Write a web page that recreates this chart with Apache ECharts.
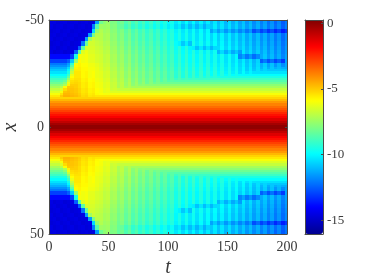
<!DOCTYPE html>
<html><head><meta charset="utf-8">
<style>html,body{margin:0;padding:0;background:#fff}#c{width:374px;height:280px;filter:blur(0.35px)}</style>
<script src="https://cdn.jsdelivr.net/npm/echarts@6/dist/echarts.min.js"></script>
</head><body><div id="c"></div>
<script>
const tEdges=[0,3,6,9,12,15,18,21,24,27,30,33,36,39,42,45,48,51,54,57,60,63,66,69,72,75,78,81,84,87,90,93,96,99,102,105,108,111,114,117,120,123,126,129,132,135,138,141,144,147,150,153,156,159,162,165,168,171,174,177,180,183,186,189,192,195,198,200];
const wingEdges=[-50,-48,-46,-44,-42,-40,-38,-36,-34,-32,-30,-29,-28,-27,-26,-25,-24,-23,-22,-21,-20,-19,-18,-17,-16,-15,-14];
const r49=[-14.6,-14.5,-14.7,-14.6,-14.5,-14.7,-14.6,-14.5,-14.7,-14.6,-14.5,-14.7,-14.6,-11.5,-8.2,-7.7,-7.5,-8.0,-7.9,-8.4,-8.1,-8.7,-8.3,-9.0,-8.6,-9.2,-8.8,-9.4,-9.0,-9.6,-9.2,-9.8,-9.4,-10.0,-9.6,-10.3,-9.8,-10.5,-9.9,-10.6,-10.0,-10.7,-10.1,-10.8,-10.2,-10.9,-10.3,-11.0,-10.4,-11.1,-10.5,-11.2,-10.7,-11.4,-10.9,-11.6,-11.1,-11.8,-11.3,-12.0,-11.5,-12.2,-11.7,-12.4,-11.9,-12.6,-12.1];
const r47=[-14.5,-14.7,-14.6,-14.5,-14.7,-14.6,-14.5,-14.7,-14.6,-14.5,-14.7,-14.6,-12.0,-8.6,-7.4,-7.5,-7.4,-7.9,-7.8,-8.3,-8.3,-8.9,-8.5,-9.2,-8.8,-9.4,-9.0,-9.6,-9.2,-9.8,-9.4,-10.0,-9.6,-10.2,-9.8,-10.5,-10.2,-10.9,-10.3,-11.0,-10.4,-11.1,-10.5,-11.2,-10.6,-10.8,-10.2,-10.9,-10.3,-11.0,-10.4,-11.1,-10.6,-11.3,-10.8,-11.5,-11.0,-11.7,-11.2,-11.9,-11.4,-12.1,-11.6,-12.3,-11.8,-12.5,-12.0];
const r45=[-14.7,-14.6,-14.5,-14.7,-14.6,-14.5,-14.7,-14.6,-14.5,-14.7,-14.6,-14.5,-10.5,-7.6,-7.1,-7.4,-7.3,-7.8,-7.7,-8.2,-7.9,-8.5,-8.1,-8.8,-8.4,-9.0,-8.6,-9.2,-8.8,-9.4,-9.0,-9.6,-9.2,-9.8,-9.4,-10.1,-9.6,-10.3,-9.7,-10.4,-9.8,-10.5,-9.9,-10.6,-10.0,-11.4,-10.8,-11.5,-10.9,-11.6,-11.0,-11.7,-11.2,-11.9,-11.4,-12.1,-11.6,-12.8,-12.3,-13.0,-12.5,-13.2,-12.7,-13.4,-12.9,-13.6,-13.1];
const r43=[-14.6,-14.5,-14.7,-14.6,-14.5,-14.7,-14.6,-14.5,-14.7,-14.6,-14.5,-11.5,-8.0,-7.0,-7.0,-7.3,-7.2,-7.7,-7.6,-8.1,-7.8,-8.4,-8.0,-8.7,-8.3,-8.9,-8.5,-9.1,-8.7,-9.3,-8.9,-9.5,-9.1,-9.7,-9.3,-10.0,-9.5,-10.2,-9.6,-10.3,-9.7,-10.4,-9.8,-10.5,-9.9,-10.6,-10.0,-10.7,-10.1,-10.8,-10.2,-10.9,-10.4,-11.1,-10.6,-11.3,-10.8,-11.5,-11.0,-11.7,-11.2,-11.9,-11.4,-12.1,-11.6,-12.3,-11.8];
const r41=[-14.5,-14.7,-14.6,-14.5,-14.7,-14.6,-14.5,-14.7,-14.6,-14.5,-11.5,-7.4,-6.7,-6.9,-7.0,-7.3,-7.2,-7.7,-7.6,-8.1,-7.8,-8.4,-8.0,-8.7,-8.3,-8.9,-8.5,-9.1,-8.7,-9.3,-8.9,-9.5,-9.1,-9.7,-9.3,-10.0,-9.5,-10.2,-9.6,-10.3,-9.7,-10.4,-9.8,-10.5,-9.9,-10.6,-10.0,-10.7,-10.1,-10.8,-10.2,-10.9,-10.4,-11.1,-10.6,-11.3,-10.8,-11.5,-11.0,-11.7,-11.2,-11.9,-11.4,-12.1,-11.6,-12.3,-11.8];
const r39=[-14.7,-14.6,-14.5,-14.7,-14.6,-14.5,-14.7,-14.6,-14.5,-12.2,-8.3,-6.6,-6.6,-6.8,-6.9,-7.2,-7.1,-7.6,-7.5,-8.0,-7.7,-8.3,-7.9,-8.6,-8.2,-8.8,-8.4,-9.0,-8.6,-9.2,-8.8,-9.4,-9.0,-9.6,-9.2,-9.9,-10.1,-10.8,-10.2,-10.9,-9.6,-10.3,-9.7,-10.4,-9.8,-10.5,-9.9,-10.6,-10.0,-10.7,-10.1,-10.8,-10.3,-11.0,-10.5,-11.2,-10.7,-11.4,-10.9,-11.6,-11.1,-11.8,-11.3,-12.0,-11.5,-12.2,-11.7];
const r37=[-14.6,-14.5,-14.7,-14.6,-14.5,-14.7,-14.6,-14.5,-12.5,-8.5,-6.5,-6.5,-6.5,-6.7,-6.8,-7.1,-7.0,-7.5,-7.4,-7.9,-7.6,-8.2,-7.8,-8.5,-8.1,-8.7,-8.3,-8.9,-8.5,-9.1,-8.7,-9.3,-8.9,-9.5,-9.1,-9.8,-9.3,-10.0,-9.4,-10.1,-10.2,-10.9,-10.3,-11.0,-10.4,-11.1,-10.5,-10.5,-9.9,-10.6,-10.0,-10.7,-10.2,-10.9,-10.4,-11.1,-10.6,-11.3,-10.8,-11.5,-11.0,-11.7,-11.2,-11.9,-11.4,-12.1,-11.6];
const r35=[-14.5,-14.7,-14.6,-14.5,-14.7,-14.6,-14.5,-12.5,-8.5,-6.4,-6.1,-6.4,-6.4,-6.6,-6.7,-7.0,-6.9,-7.4,-7.3,-7.8,-7.5,-8.1,-7.7,-8.4,-8.0,-8.6,-8.2,-8.8,-8.4,-9.0,-8.6,-9.2,-8.8,-9.4,-9.0,-9.7,-9.2,-9.9,-9.3,-10.0,-9.4,-10.1,-9.5,-10.2,-9.6,-10.3,-9.7,-11.1,-10.5,-11.2,-10.6,-11.3,-10.8,-11.5,-10.3,-11.0,-10.5,-11.2,-10.7,-11.4,-10.9,-11.6,-11.1,-11.8,-11.3,-12.0,-11.5];
const r33=[-13.9,-13.9,-13.9,-13.9,-13.9,-13.9,-13.0,-9.5,-6.0,-6.1,-6.0,-6.3,-6.3,-6.5,-6.6,-6.9,-6.8,-7.3,-7.2,-7.7,-7.4,-8.0,-7.6,-8.3,-7.9,-8.5,-8.1,-8.7,-8.3,-8.9,-8.5,-9.1,-8.7,-9.3,-8.9,-9.6,-9.1,-9.8,-9.2,-9.9,-9.3,-10.0,-9.4,-10.1,-9.5,-10.2,-9.6,-10.3,-9.7,-10.4,-9.8,-10.5,-10.0,-11.9,-11.4,-12.1,-11.6,-12.3,-11.8,-11.3,-10.8,-11.5,-11.0,-11.7,-11.2,-11.9,-11.4];
const r31=[-13.0,-13.0,-13.0,-13.0,-13.0,-12.5,-10.8,-7.5,-5.8,-6.1,-6.0,-6.3,-6.3,-6.5,-6.6,-6.9,-6.8,-7.3,-7.2,-7.7,-7.4,-8.0,-7.6,-8.3,-7.9,-8.5,-8.1,-8.7,-8.3,-8.9,-8.5,-9.1,-8.7,-9.3,-8.9,-9.6,-9.1,-9.8,-9.2,-9.9,-9.3,-10.0,-9.4,-10.1,-9.5,-10.2,-9.6,-10.3,-9.7,-10.4,-9.8,-10.5,-10.0,-10.7,-10.2,-10.9,-10.4,-11.1,-10.6,-12.5,-12.0,-12.7,-12.2,-12.9,-12.4,-13.1,-11.4];
const r29=[-12.1,-12.1,-12.1,-12.1,-12.1,-11.5,-9.2,-6.0,-5.7,-5.9,-5.9,-6.1,-6.1,-6.3,-6.5,-6.8,-6.7,-7.2,-7.1,-7.6,-7.3,-7.9,-7.5,-8.2,-7.8,-8.4,-8.0,-8.6,-8.2,-8.8,-8.4,-9.0,-8.6,-9.2,-8.8,-9.5,-9.0,-9.7,-9.1,-9.8,-9.2,-9.9,-9.3,-10.0,-9.4,-10.1,-9.5,-10.2,-9.6,-10.3,-9.7,-10.4,-9.9,-10.6,-10.1,-10.8,-10.3,-11.0,-10.5,-11.2,-10.7,-11.4,-10.9,-11.6,-11.1,-11.8,-11.3];
const r28=[-11.7,-11.7,-11.7,-11.7,-11.7,-11.2,-8.5,-5.8,-5.7,-5.9,-5.9,-6.1,-6.1,-6.3,-6.5,-6.8,-6.7,-7.2,-7.1,-7.6,-7.3,-7.9,-7.5,-8.2,-7.8,-8.4,-8.0,-8.6,-8.2,-8.8,-8.4,-9.0,-8.6,-9.2,-8.8,-9.5,-9.0,-9.7,-9.1,-9.8,-9.2,-9.9,-9.3,-10.0,-9.4,-10.1,-9.5,-10.2,-9.6,-10.3,-9.7,-10.4,-9.9,-10.6,-10.1,-10.8,-10.3,-11.0,-10.5,-11.2,-10.7,-11.4,-10.9,-11.6,-11.1,-11.7,-11.3];
const r27=[-11.2,-11.2,-11.2,-11.2,-11.2,-10.5,-7.8,-5.7,-5.6,-5.8,-5.8,-6.0,-6.0,-6.2,-6.4,-6.7,-6.6,-7.1,-7.0,-7.5,-7.2,-7.8,-7.4,-8.1,-7.7,-8.3,-7.9,-8.5,-8.1,-8.7,-8.3,-8.9,-8.5,-9.1,-8.7,-9.4,-8.9,-9.6,-9.0,-9.7,-9.1,-9.8,-9.2,-9.9,-9.3,-10.0,-9.4,-10.1,-9.5,-10.2,-9.6,-10.3,-9.8,-10.5,-10.0,-10.7,-10.2,-10.9,-10.4,-11.1,-10.6,-11.2,-10.8,-11.2,-11.0,-11.2,-11.2];
const r26=[-10.8,-10.8,-10.8,-10.8,-10.8,-10.0,-7.2,-5.6,-5.6,-5.8,-5.8,-6.0,-6.0,-6.2,-6.4,-6.7,-6.6,-7.1,-7.0,-7.5,-7.2,-7.8,-7.4,-8.1,-7.7,-8.3,-7.9,-8.5,-8.1,-8.7,-8.3,-8.9,-8.5,-9.1,-8.7,-9.4,-8.9,-9.6,-9.0,-9.7,-9.1,-9.8,-9.2,-9.9,-9.3,-10.0,-9.4,-10.1,-9.5,-10.2,-9.6,-10.3,-9.8,-10.5,-10.0,-10.7,-10.2,-10.8,-10.4,-10.8,-10.6,-10.8,-10.8,-10.8,-10.8,-10.8,-10.8];
const r25=[-10.4,-10.4,-10.4,-10.4,-10.4,-9.6,-6.8,-5.5,-5.5,-5.8,-5.7,-6.0,-5.9,-6.2,-6.3,-6.6,-6.5,-7.0,-6.9,-7.4,-7.1,-7.7,-7.3,-8.0,-7.6,-8.2,-7.8,-8.4,-8.0,-8.6,-8.2,-8.8,-8.4,-9.0,-8.6,-9.3,-8.8,-9.5,-8.9,-9.6,-9.0,-9.7,-9.1,-9.8,-9.2,-9.9,-9.3,-10.0,-9.4,-10.1,-9.5,-10.2,-9.7,-10.4,-9.9,-10.4,-10.1,-10.4,-10.4,-10.4,-10.4,-10.4,-10.4,-10.4,-10.4,-10.4,-10.4];
const r24=[-9.9,-9.9,-9.9,-9.9,-9.9,-9.0,-6.2,-5.5,-5.5,-5.8,-5.7,-6.0,-5.9,-6.2,-6.3,-6.6,-6.5,-7.0,-6.9,-7.4,-7.1,-7.7,-7.3,-8.0,-7.6,-8.2,-7.8,-8.4,-8.0,-8.6,-8.2,-8.8,-8.4,-9.0,-8.6,-9.3,-8.8,-9.5,-8.9,-9.6,-9.0,-9.7,-9.1,-9.8,-9.2,-9.9,-9.3,-9.9,-9.4,-9.9,-9.5,-9.9,-9.7,-9.9,-9.9,-9.9,-9.9,-9.9,-9.9,-9.9,-9.9,-9.9,-9.9,-9.9,-9.9,-9.9,-9.9];
const r23=[-9.5,-9.5,-9.5,-9.5,-9.5,-8.4,-5.9,-5.5,-5.5,-5.8,-5.7,-6.0,-5.9,-6.2,-6.3,-6.6,-6.5,-7.0,-6.9,-7.4,-7.1,-7.7,-7.3,-8.0,-7.6,-8.2,-7.8,-8.4,-8.0,-8.6,-8.2,-8.8,-8.4,-9.0,-8.6,-9.3,-8.8,-9.5,-8.9,-9.5,-9.0,-9.5,-9.1,-9.5,-9.2,-9.5,-9.3,-9.5,-9.5,-9.5,-9.5,-9.5,-9.5,-9.5,-9.5,-9.5,-9.5,-9.5,-9.5,-9.5,-9.5,-9.5,-9.5,-9.5,-9.5,-9.5,-9.5];
const r22=[-9.0,-9.0,-9.0,-9.0,-8.8,-7.6,-5.6,-5.4,-5.4,-5.7,-5.6,-5.9,-5.8,-6.1,-6.2,-6.5,-6.4,-6.9,-6.8,-7.3,-7.0,-7.6,-7.2,-7.9,-7.5,-8.1,-7.7,-8.3,-7.9,-8.5,-8.1,-8.7,-8.3,-8.9,-8.5,-9.0,-8.7,-9.0,-8.8,-9.0,-8.9,-9.0,-9.0,-9.0,-9.0,-9.0,-9.0,-9.0,-9.0,-9.0,-9.0,-9.0,-9.0,-9.0,-9.0,-9.0,-9.0,-9.0,-9.0,-9.0,-9.0,-9.0,-9.0,-9.0,-9.0,-9.0,-9.0];
const r21=[-8.6,-8.6,-8.6,-8.6,-8.3,-6.8,-5.4,-5.3,-5.4,-5.7,-5.6,-5.9,-5.8,-6.1,-6.2,-6.5,-6.4,-6.9,-6.8,-7.3,-7.0,-7.6,-7.2,-7.9,-7.5,-8.1,-7.7,-8.3,-7.9,-8.5,-8.1,-8.6,-8.3,-8.6,-8.5,-8.6,-8.6,-8.6,-8.6,-8.6,-8.6,-8.6,-8.6,-8.6,-8.6,-8.6,-8.6,-8.6,-8.6,-8.6,-8.6,-8.6,-8.6,-8.6,-8.6,-8.6,-8.6,-8.6,-8.6,-8.6,-8.6,-8.6,-8.6,-8.6,-8.6,-8.6,-8.6];
const r20=[-8.2,-8.2,-8.2,-8.2,-7.7,-6.2,-5.3,-5.2,-5.3,-5.6,-5.5,-5.8,-5.7,-6.0,-6.1,-6.4,-6.3,-6.8,-6.7,-7.2,-6.9,-7.5,-7.1,-7.8,-7.4,-8.0,-7.6,-8.2,-7.8,-8.2,-8.0,-8.2,-8.2,-8.2,-8.2,-8.2,-8.2,-8.2,-8.2,-8.2,-8.2,-8.2,-8.2,-8.2,-8.2,-8.2,-8.2,-8.2,-8.2,-8.2,-8.2,-8.2,-8.2,-8.2,-8.2,-8.2,-8.2,-8.2,-8.2,-8.2,-8.2,-8.2,-8.2,-8.2,-8.2,-8.2,-8.2];
const r19=[-7.7,-7.7,-7.7,-7.7,-7.2,-5.7,-5.1,-5.1,-5.3,-5.6,-5.5,-5.8,-5.7,-6.0,-6.1,-6.4,-6.3,-6.8,-6.7,-7.2,-6.9,-7.5,-7.1,-7.7,-7.4,-7.7,-7.6,-7.7,-7.7,-7.7,-7.7,-7.7,-7.7,-7.7,-7.7,-7.7,-7.7,-7.7,-7.7,-7.7,-7.7,-7.7,-7.7,-7.7,-7.7,-7.7,-7.7,-7.7,-7.7,-7.7,-7.7,-7.7,-7.7,-7.7,-7.7,-7.7,-7.7,-7.7,-7.7,-7.7,-7.7,-7.7,-7.7,-7.7,-7.7,-7.7,-7.7];
const r18=[-7.3,-7.3,-7.3,-7.0,-5.9,-5.0,-5.0,-5.1,-5.3,-5.6,-5.5,-5.8,-5.7,-6.0,-6.1,-6.4,-6.3,-6.8,-6.7,-7.2,-6.9,-7.3,-7.1,-7.3,-7.3,-7.3,-7.3,-7.3,-7.3,-7.3,-7.3,-7.3,-7.3,-7.3,-7.3,-7.3,-7.3,-7.3,-7.3,-7.3,-7.3,-7.3,-7.3,-7.3,-7.3,-7.3,-7.3,-7.3,-7.3,-7.3,-7.3,-7.3,-7.3,-7.3,-7.3,-7.3,-7.3,-7.3,-7.3,-7.3,-7.3,-7.3,-7.3,-7.3,-7.3,-7.3,-7.3];
const r17=[-6.8,-6.8,-6.8,-6.4,-5.3,-4.9,-4.9,-5.0,-5.2,-5.5,-5.4,-5.7,-5.6,-5.9,-6.0,-6.3,-6.2,-6.7,-6.6,-6.8,-6.8,-6.8,-6.8,-6.8,-6.8,-6.8,-6.8,-6.8,-6.8,-6.8,-6.8,-6.8,-6.8,-6.8,-6.8,-6.8,-6.8,-6.8,-6.8,-6.8,-6.8,-6.8,-6.8,-6.8,-6.8,-6.8,-6.8,-6.8,-6.8,-6.8,-6.8,-6.8,-6.8,-6.8,-6.8,-6.8,-6.8,-6.8,-6.8,-6.8,-6.8,-6.8,-6.8,-6.8,-6.8,-6.8,-6.8];
const r16=[-6.4,-6.4,-6.4,-6.0,-4.9,-4.8,-4.9,-5.0,-5.2,-5.5,-5.4,-5.7,-5.6,-5.9,-6.0,-6.3,-6.2,-6.4,-6.4,-6.4,-6.4,-6.4,-6.4,-6.4,-6.4,-6.4,-6.4,-6.4,-6.4,-6.4,-6.4,-6.4,-6.4,-6.4,-6.4,-6.4,-6.4,-6.4,-6.4,-6.4,-6.4,-6.4,-6.4,-6.4,-6.4,-6.4,-6.4,-6.4,-6.4,-6.4,-6.4,-6.4,-6.4,-6.4,-6.4,-6.4,-6.4,-6.4,-6.4,-6.4,-6.4,-6.4,-6.4,-6.4,-6.4,-6.4,-6.4];
const r15=[-6.0,-6.0,-6.0,-5.4,-4.7,-4.7,-4.8,-4.9,-5.1,-5.4,-5.3,-5.6,-5.5,-5.8,-5.9,-6.0,-6.0,-6.0,-6.0,-6.0,-6.0,-6.0,-6.0,-6.0,-6.0,-6.0,-6.0,-6.0,-6.0,-6.0,-6.0,-6.0,-6.0,-6.0,-6.0,-6.0,-6.0,-6.0,-6.0,-6.0,-6.0,-6.0,-6.0,-6.0,-6.0,-6.0,-6.0,-6.0,-6.0,-6.0,-6.0,-6.0,-6.0,-6.0,-6.0,-6.0,-6.0,-6.0,-6.0,-6.0,-6.0,-6.0,-6.0,-6.0,-6.0,-6.0,-6.0];
const r14=[-5.5,-5.5,-5.5,-5.0,-4.6,-4.6,-4.7,-4.8,-5.0,-5.3,-5.2,-5.5,-5.4,-5.5,-5.5,-5.5,-5.5,-5.5,-5.5,-5.5,-5.5,-5.5,-5.5,-5.5,-5.5,-5.5,-5.5,-5.5,-5.5,-5.5,-5.5,-5.5,-5.5,-5.5,-5.5,-5.5,-5.5,-5.5,-5.5,-5.5,-5.5,-5.5,-5.5,-5.5,-5.5,-5.5,-5.5,-5.5,-5.5,-5.5,-5.5,-5.5,-5.5,-5.5,-5.5,-5.5,-5.5,-5.5,-5.5,-5.5,-5.5,-5.5,-5.5,-5.5,-5.5,-5.5,-5.5];
const wingRows=[r49,r47,r45,r43,r41,r39,r37,r35,r33,r31,r29,r28,r27,r26,r25,r24,r23,r22,r21,r20,r19,r18,r17,r16,r15,r14];
const coreEdges=[-14,-13,-12,-11,-10,-9,-8,-7,-6,-5,-4,-3,-2,-1,0];
const coreValues=[-5.15,-4.7,-4.25,-3.85,-3.5,-3.15,-2.8,-2.4,-2.05,-1.7,-1.25,-0.8,-0.35,0.0];
const xTicks=[0,50,100,150,200];
const yTicks=[-50,0,50];
const barTicks=[0,-5,-10,-15];
const colorMin=-16.05, colorMax=0.25;
const jet=['#00008f','#0000ff','#0080ff','#00ffff','#80ff80','#ffff00','#ff8000','#ff0000','#800000'];

const cells=[];
wingRows.forEach((row,r)=>row.forEach((v,c)=>{
  cells.push([tEdges[c],tEdges[c+1],wingEdges[r],wingEdges[r+1],v]);
  cells.push([tEdges[c],tEdges[c+1],-wingEdges[r+1],-wingEdges[r],v]);
}));
coreValues.forEach((v,r)=>{
  cells.push([0,200,coreEdges[r],coreEdges[r+1],v]);
  cells.push([0,200,-coreEdges[r+1],-coreEdges[r],v]);
});

const ink='#3a3a3a';
const font='Liberation Serif';
const line={show:true,onZero:false,lineStyle:{color:'#4a4a4a',width:1}};
const tick=(vals)=>({show:true,inside:true,length:2,lineStyle:{color:'#4a4a4a'},customValues:vals});
const labelOff={show:false};
const chart=echarts.init(document.getElementById('c'),null,{renderer:'canvas'});
chart.setOption({
  animation:false,
  backgroundColor:'#fff',
  grid:[{left:49,top:20,width:238,height:214,outerBoundsMode:'none'},{left:305,top:20,width:18,height:214,outerBoundsMode:'none'}],
  xAxis:[
    {gridIndex:0,type:'value',min:0,max:200,position:'bottom',z:5,axisLine:line,axisTick:tick(xTicks),splitLine:{show:false},
     axisLabel:{customValues:xTicks,color:ink,fontFamily:font,fontSize:14,margin:6},
     name:'t',nameLocation:'middle',nameGap:24,nameMoveOverlap:false,nameTextStyle:{color:ink,fontFamily:font,fontStyle:'italic',fontSize:20}},
    {gridIndex:0,type:'value',min:0,max:200,position:'top',z:5,axisLine:line,axisTick:tick(xTicks),splitLine:{show:false},axisLabel:labelOff},
    {gridIndex:1,type:'value',min:0,max:1,position:'bottom',z:5,axisLine:line,axisTick:{show:false},splitLine:{show:false},axisLabel:labelOff},
    {gridIndex:1,type:'value',min:0,max:1,position:'top',z:5,axisLine:line,axisTick:{show:false},splitLine:{show:false},axisLabel:labelOff}
  ],
  yAxis:[
    {gridIndex:0,type:'value',inverse:true,min:-50,max:50,position:'left',z:5,axisLine:line,axisTick:tick(yTicks),splitLine:{show:false},
     axisLabel:{customValues:yTicks,color:ink,fontFamily:font,fontSize:14,margin:5},
     name:'x',nameLocation:'middle',nameGap:28,nameMoveOverlap:false,nameTextStyle:{color:ink,fontFamily:font,fontStyle:'italic',fontSize:20}},
    {gridIndex:0,type:'value',inverse:true,min:-50,max:50,position:'right',z:5,axisLine:line,axisTick:tick(yTicks),splitLine:{show:false},axisLabel:labelOff},
    {gridIndex:1,type:'value',min:colorMin,max:colorMax,position:'right',z:5,axisLine:line,axisTick:tick(barTicks),splitLine:{show:false},
     axisLabel:{customValues:barTicks,color:ink,fontFamily:font,fontSize:13,margin:4}},
    {gridIndex:1,type:'value',min:colorMin,max:colorMax,position:'left',z:5,axisLine:line,axisTick:{show:false},splitLine:{show:false},axisLabel:labelOff}
  ],
  visualMap:{type:'continuous',min:colorMin,max:colorMax,dimension:4,seriesIndex:0,left:305,top:20,itemWidth:18,itemHeight:214,padding:0,
    calculable:false,hoverLink:false,inRange:{color:jet},textStyle:{fontSize:0,color:'transparent'},formatter:()=>'',showLabel:false,text:null,z:2},
  series:[{
    type:'custom',xAxisIndex:0,yAxisIndex:0,coordinateSystem:'cartesian2d',silent:true,progressive:0,clip:true,
    encode:{x:[0,1],y:[2,3]},
    data:cells,
    renderItem(params,api){
      const a=api.coord([api.value(0),api.value(2)]);
      const b=api.coord([api.value(1),api.value(3)]);
      const x0=Math.round(a[0]),x1=Math.round(b[0]),y0=Math.round(a[1]),y1=Math.round(b[1]);
      return {type:'rect',shape:{x:x0,y:y0,width:x1-x0,height:y1-y0},style:{fill:api.visual('color')}};
    }
  }]
});
</script></body></html>
